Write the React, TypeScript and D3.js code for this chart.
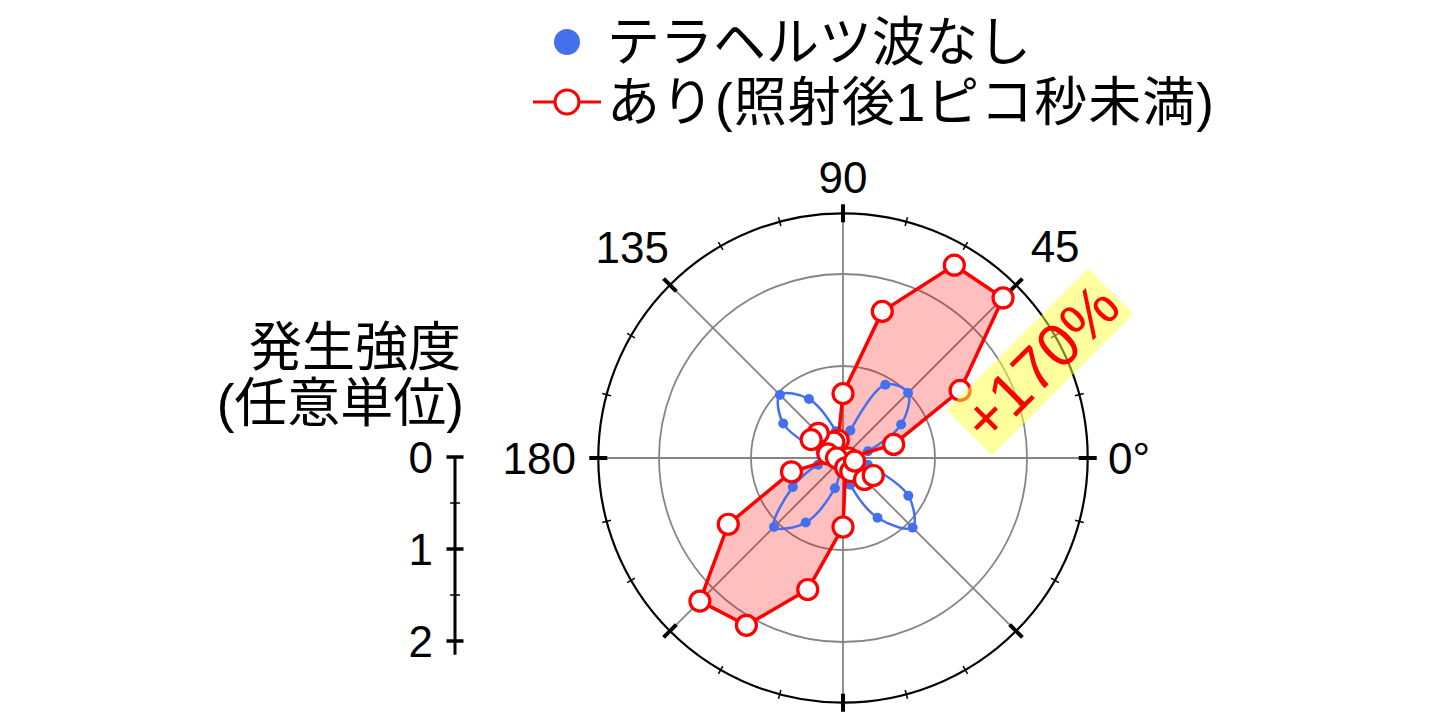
import * as d3 from 'd3'

// polar angles in degrees (counter-clockwise from +x)
const angles = [0, 15, 30, 45, 60, 75, 90, 105, 120, 135, 150, 165, 180, 195, 210, 225, 240, 255, 270, 285, 300, 315, 330, 345]

// intensity, arbitrary units
const withoutTHz = [0.1, 0.28, 0.73, 1.0, 0.92, 0.31, 0.08, 0.3, 0.74, 0.97, 0.75, 0.25, 0.08, 0.28, 0.63, 1.06, 0.81, 0.34, 0.08, 0.3, 0.75, 1.07, 0.82, 0.28]
const withTHz = [0.06, 0.57, 1.47, 2.46, 2.42, 1.65, 0.7, 0.2, 0.2, 0.38, 0.4, 0.17, 0.07, 0.58, 1.44, 2.2, 2.1, 1.48, 0.75, 0.11, 0.17, 0.33, 0.38, 0.13]

const gridLevels = [1, 2]
const outerLevel = 2.66
const spokeAngles = [0, 45, 90, 135, 180, 225, 270, 315]
const tickAngles = d3.range(0, 360, 15)
const angleLabels = [
  { deg: 90, text: '90', dist: 281, anchor: 'middle' },
  { deg: 135, text: '135', dist: 298, anchor: 'middle' },
  { deg: 45, text: '45', dist: 300, anchor: 'middle' },
  { deg: 180, text: '180', dist: 267, anchor: 'end' },
  { deg: 0, text: '0°', dist: 265, anchor: 'start' },
]
const scaleTicks = [0, 1, 2]
const scaleMinorTicks = [0.5, 1.5]
const legendLabels = ['テラヘルツ波なし', 'あり(照射後1ピコ秒未満)']
const yAxisTitle = ['発生強度', '(任意単位)']
const changeLabel = '+170%'

const BLUE = '#4470ee'
const RED = '#ff0000'
const GRAY = '#858585'
const FONT = '"Liberation Sans", Arial, "Noto Sans CJK JP", sans-serif'

const cx = 843
const cy = 458

const r = d3.scaleLinear().domain([0, 1]).range([0, 92])
const toRad = (deg: number) => ((90 - deg) * Math.PI) / 180

export default function App() {
  const R = r(outerLevel)

  const polyLine = d3
    .lineRadial<number>()
    .angle((_, i) => toRad(angles[i]))
    .radius((d) => r(d))
    .curve(d3.curveLinearClosed)

  const smoothLine = d3
    .lineRadial<number>()
    .angle((_, i) => toRad(angles[i]))
    .radius((d) => r(d))
    .curve(d3.curveCatmullRomClosed.alpha(0.5))

  const axisX = 455
  const yScale = d3.scaleLinear().domain([0, 1]).range([cy - 1, cy - 1 + 92])

  return (
    <svg width={1440} height={718} style={{ position: 'absolute', left: 0, top: 0, background: '#fff' }}>
      {/* legend */}
      <g fontFamily={FONT} fontSize={53}>
        <circle cx={567} cy={42} r={13} fill={BLUE} />
        <text x={607} y={61}>{legendLabels[0]}</text>
        <line x1={533} x2={601} y1={102} y2={102} stroke={RED} strokeWidth={3} />
        <circle cx={567} cy={102} r={12} fill="#fff" stroke={RED} strokeWidth={3} />
        <text x={607} y={121} letterSpacing={1}>{legendLabels[1]}</text>
      </g>

      {/* y axis title */}
      <g fontFamily={FONT} fontSize={53} textAnchor="end">
        <text x={461} y={366}>{yAxisTitle[0]}</text>
        <text x={464} y={422}>{yAxisTitle[1]}</text>
      </g>

      {/* intensity scale bar */}
      <g>
        <line x1={axisX} x2={axisX} y1={yScale(0)} y2={yScale(2.15)} stroke="#000" strokeWidth={3} />
        {scaleTicks.map((t) => (
          <g key={t}>
            <line x1={axisX - 8.5} x2={axisX + 8.5} y1={yScale(t)} y2={yScale(t)} stroke="#000" strokeWidth={3.5} />
            <text x={433} y={yScale(t)} dy="0.36em" textAnchor="end" fontFamily={FONT} fontSize={44}>
              {t}
            </text>
          </g>
        ))}
        {scaleMinorTicks.map((t) => (
          <line key={t} x1={axisX - 5} x2={axisX + 5} y1={yScale(t)} y2={yScale(t)} stroke="#000" strokeWidth={1.5} />
        ))}
      </g>

      <g transform={`translate(${cx},${cy})`}>
        {/* grid */}
        {gridLevels.map((g) => (
          <circle key={g} r={r(g)} fill="none" stroke={GRAY} strokeWidth={1.8} />
        ))}
        {spokeAngles.map((a) => {
          const [x, y] = d3.pointRadial(toRad(a), R)
          return <line key={a} x1={0} y1={0} x2={x} y2={y} stroke={GRAY} strokeWidth={1.8} />
        })}
        <circle r={R} fill="none" stroke="#000" strokeWidth={2.2} />
        {tickAngles.map((a) => {
          const major = a % 45 === 0
          const half = major ? 9 : 4.5
          const [x1, y1] = d3.pointRadial(toRad(a), R - half)
          const [x2, y2] = d3.pointRadial(toRad(a), R + half)
          return <line key={a} x1={x1} y1={y1} x2={x2} y2={y2} stroke="#000" strokeWidth={major ? 4 : 1.5} />
        })}
        {angleLabels.map((l) => {
          const [x, y] = d3.pointRadial(toRad(l.deg), l.dist)
          return (
            <text key={l.deg} x={x} y={y} dy="0.36em" textAnchor={l.anchor} fontFamily={FONT} fontSize={44}>
              {l.text}
            </text>
          )
        })}

        {/* red area */}
        <path d={polyLine(withTHz) ?? ''} fill={RED} fillOpacity={0.25} stroke="none" />

        {/* blue series */}
        <path d={smoothLine(withoutTHz) ?? ''} fill="none" stroke={BLUE} strokeWidth={2.5} />
        {withoutTHz.map((v, i) => {
          const [x, y] = d3.pointRadial(toRad(angles[i]), r(v))
          return <circle key={i} cx={x} cy={y} r={5} fill={BLUE} />
        })}

        {/* red series */}
        <path d={polyLine(withTHz) ?? ''} fill="none" stroke={RED} strokeWidth={3.5} strokeLinejoin="round" />
        {withTHz.map((v, i) => {
          const [x, y] = d3.pointRadial(toRad(angles[i]), r(v))
          return <circle key={i} cx={x} cy={y} r={10} fill="#fff" stroke={RED} strokeWidth={3.2} />
        })}
      </g>

      {/* enhancement label */}
      <g transform="translate(1040,362) rotate(-45)">
        <rect x={-100} y={-32} width={200} height={64} fill="#ffff3c" fillOpacity={0.5} />
        <text x={0} y={0} dy="0.36em" textAnchor="middle" fontFamily={FONT} fontSize={61} fill={RED}>
          {changeLabel}
        </text>
      </g>
    </svg>
  )
}
